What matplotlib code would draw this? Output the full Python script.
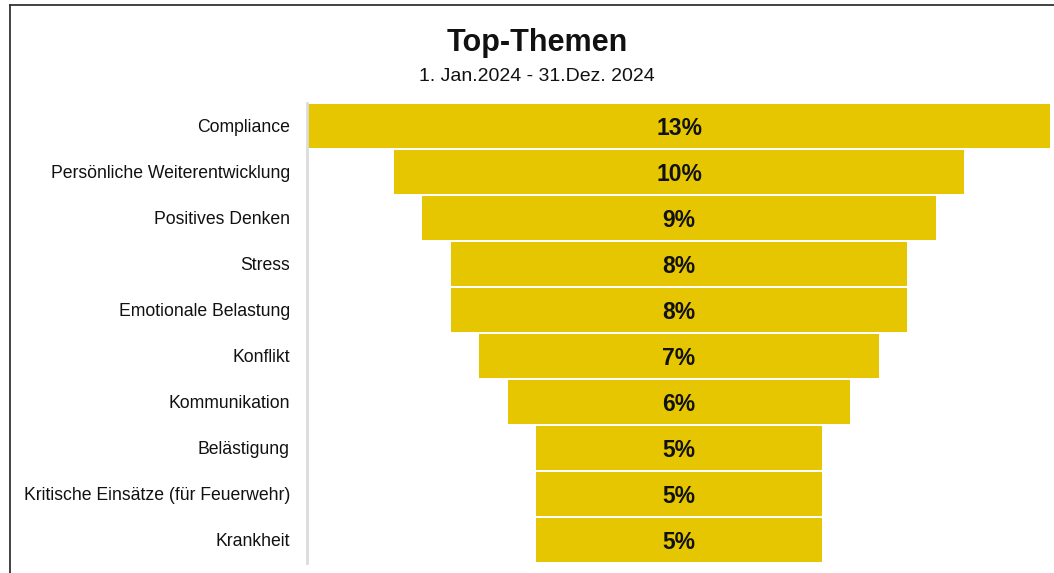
import matplotlib
matplotlib.use("Agg")
import matplotlib.pyplot as plt
from matplotlib.lines import Line2D

categories = ["Compliance", "Persönliche Weiterentwicklung", "Positives Denken", "Stress",
              "Emotionale Belastung", "Konflikt", "Kommunikation", "Belästigung",
              "Kritische Einsätze (für Feuerwehr)", "Krankheit"]
values = [13, 10, 9, 8, 8, 7, 6, 5, 5, 5]
title = "Top-Themen"
subtitle = "1. Jan.2024 - 31.Dez. 2024"

plt.rcParams['font.family'] = ['Liberation Sans', 'DejaVu Sans']

W, H = 1054, 573
fig = plt.figure(figsize=(W / 100, H / 100), dpi=100)
ax = fig.add_axes([308 / W, 1 - 563 / H, (1050 - 308) / W, (563 - 103) / H])

ypos = list(range(len(categories)))
lefts = [-v / 2 for v in values]
ax.barh(ypos, values, left=lefts, height=0.935, color="#E5C600", edgecolor="none")
for y, v in zip(ypos, values):
    ax.text(0, y, f"{v}%", ha="center", va="center_baseline", fontsize=16.5,
            fontweight="bold", color="#111111")

mx = max(values) / 2
ax.set_xlim(-mx, mx)
ax.set_ylim(len(categories) - 0.5, -0.5)
ax.set_yticks(ypos)
ax.set_yticklabels(categories)
ax.tick_params(axis="y", length=0, pad=12, labelsize=12.7, labelcolor="#111111")
ax.set_xticks([])
for s in ["top", "right", "bottom"]:
    ax.spines[s].set_visible(False)
ax.spines["left"].set_color("#dcdcdc")
ax.spines["left"].set_linewidth(2)
ax.spines["left"].set_position(("outward", 1))

fig.text(537 / W, 1 - 43 / H, title, ha="center", va="center", fontsize=22, fontweight="bold", color="#111111")
fig.text(537 / W, 1 - 76 / H, subtitle, ha="center", va="center", fontsize=14, color="#111111")

fig.add_artist(Line2D([9.5 / W, 9.5 / W], [0, 1 - 4.5 / H], transform=fig.transFigure, color="#333333", linewidth=1.3))
fig.add_artist(Line2D([9.5 / W, 1], [1 - 4.5 / H, 1 - 4.5 / H], transform=fig.transFigure, color="#333333", linewidth=1.3))

fig.savefig("out.png", dpi=100)
